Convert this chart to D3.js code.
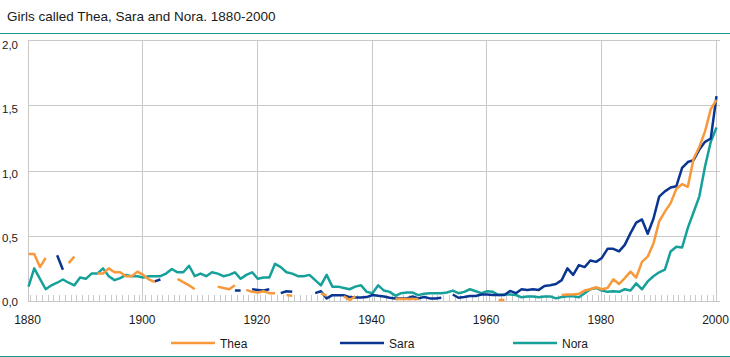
<!DOCTYPE html>
<html>
<head>
<meta charset="utf-8">
<script src="https://cdn.jsdelivr.net/npm/d3@7"></script>
<style>
  html, body { margin: 0; padding: 0; background: #fff; }
  svg { display: block; font-family: "Liberation Sans", Arial, sans-serif; }
</style>
</head>
<body>
<svg id="chart" width="730" height="357"></svg>
<script>
// ---- Data ----
const years = d3.range(1880, 2001);
const xTickLabels = [1880, 1900, 1920, 1940, 1960, 1980, 2000];
const yTickValues = [0, 0.5, 1.0, 1.5, 2.0];
const seriesNames = ["Thea", "Sara", "Nora"];

const thea = [
  // 1880-1889
  0.36, 0.36, 0.26, 0.33, null, null, null, 0.29, 0.34, null,
  // 1890-1899
  null, null, 0.21, 0.21, 0.25, 0.22, 0.22, 0.19, 0.19, 0.225,
  // 1900-1909
  0.2, 0.165, 0.145, null, null, null, 0.17, 0.145, 0.12, 0.09,
  // 1910-1919
  null, null, null, 0.11, 0.1, 0.09, 0.12, null, 0.085, 0.07,
  // 1920-1929
  0.065, 0.075, 0.06, 0.06, null, 0.045, 0.04, null, null, null,
  // 1930-1939
  null, 0.06, 0.04, null, null, 0.035, 0.008, 0.035, null, null,
  // 1940-1949
  null, null, null, null, 0.015, 0.015, 0.015, 0.015, 0.015, null,
  // 1950-1959
  null, null, null, null, null, null, null, null, null, null,
  // 1960-1969
  null, null, 0.008, 0.008, null, null, null, null, null, null,
  // 1970-1979
  null, null, null, 0.046, 0.05, 0.05, 0.055, 0.08, 0.09, 0.105,
  // 1980-1989
  0.09, 0.1, 0.166, 0.13, 0.175, 0.225, 0.18, 0.3, 0.34, 0.44,
  // 1990-1999
  0.61, 0.685, 0.75, 0.86, 0.895, 0.875, 1.09, 1.18, 1.3, 1.47,
  // 2000
  1.54
];

const sara = [
  // 1880-1889
  null, null, null, null, null, 0.35, 0.24, null, null, null,
  // 1890-1899
  null, null, null, null, null, null, null, null, null, null,
  // 1900-1909
  null, null, 0.15, 0.165, null, null, null, null, null, null,
  // 1910-1919
  null, null, null, null, null, null, 0.08, 0.08, null, 0.09,
  // 1920-1929
  0.085, 0.08, 0.09, null, 0.06, 0.075, 0.07, null, null, null,
  // 1930-1939
  0.06, 0.075, 0.02, 0.045, 0.045, 0.045, 0.03, 0.027, 0.027, 0.03,
  // 1940-1949
  0.046, 0.04, 0.035, 0.025, 0.02, 0.02, 0.02, 0.035, 0.02, 0.03,
  // 1950-1959
  0.02, 0.02, 0.025, null, 0.05, 0.025, 0.03, 0.038, 0.038, 0.05,
  // 1960-1969
  0.05, 0.046, 0.046, 0.046, 0.077, 0.06, 0.09, 0.085, 0.09, 0.085,
  // 1970-1979
  0.115, 0.12, 0.13, 0.16, 0.25, 0.2, 0.275, 0.26, 0.31, 0.3,
  // 1980-1989
  0.33, 0.4, 0.4, 0.38, 0.43, 0.52, 0.6, 0.625, 0.515, 0.63,
  // 1990-1999
  0.8, 0.84, 0.87, 0.88, 1.02, 1.065, 1.08, 1.16, 1.22, 1.245,
  // 2000
  1.57
];

const nora = [
  // 1880-1889
  0.11, 0.25, 0.17, 0.09, 0.12, 0.14, 0.165, 0.14, 0.12, 0.18,
  // 1890-1899
  0.17, 0.21, 0.21, 0.25, 0.19, 0.16, 0.175, 0.2, 0.19, 0.19,
  // 1900-1909
  0.18, 0.19, 0.19, 0.19, 0.21, 0.245, 0.22, 0.22, 0.27, 0.19,
  // 1910-1919
  0.21, 0.19, 0.22, 0.21, 0.19, 0.2, 0.22, 0.17, 0.2, 0.22,
  // 1920-1929
  0.17, 0.18, 0.18, 0.285, 0.26, 0.22, 0.21, 0.19, 0.19, 0.2,
  // 1930-1939
  0.16, 0.12, 0.2, 0.11, 0.11, 0.1, 0.09, 0.11, 0.12, 0.07,
  // 1940-1949
  0.06, 0.12, 0.08, 0.07, 0.04, 0.06, 0.065, 0.065, 0.045, 0.055,
  // 1950-1959
  0.06, 0.06, 0.06, 0.065, 0.08, 0.06, 0.07, 0.09, 0.075, 0.06,
  // 1960-1969
  0.075, 0.07, 0.046, 0.05, 0.05, 0.046, 0.028, 0.035, 0.035, 0.028,
  // 1970-1979
  0.035, 0.035, 0.02, 0.03, 0.036, 0.036, 0.028, 0.06, 0.09, 0.1,
  // 1980-1989
  0.08, 0.07, 0.075, 0.07, 0.09, 0.08, 0.135, 0.09, 0.15, 0.19,
  // 1990-1999
  0.22, 0.24, 0.38, 0.415, 0.41, 0.56, 0.68, 0.8, 1.03, 1.22,
  // 2000
  1.33
];

const colors = { Thea: "#f7993a", Sara: "#0a3692", Nora: "#16a09a" };
const seriesData = { Thea: thea, Sara: sara, Nora: nora };

// ---- Layout ----
const W = 730, H = 357;
const plot = { left: 28, right: 720, top: 40, bottom: 301 };

const svg = d3.select("#chart");

const x = d3.scaleLinear().domain([1880, 2000]).range([28.5, 716.5]);
const y = d3.scaleLinear().domain([0, 2]).range([plot.bottom, plot.top]);

const gridColor = "#c8c8c8";
const teal = "#17978f";

// Title
svg.append("text")
  .attr("x", 7).attr("y", 20.5)
  .attr("font-size", 13.5)
  .attr("fill", "#1a1a1a")
  .text("Girls called Thea, Sara and Nora. 1880-2000");

// Teal rules
svg.append("line").attr("x1", 0).attr("x2", W).attr("y1", 33.5).attr("y2", 33.5)
  .attr("stroke", teal).attr("stroke-width", 1);
svg.append("line").attr("x1", 0).attr("x2", W).attr("y1", 356.5).attr("y2", 356.5)
  .attr("stroke", teal).attr("stroke-width", 1);

// Horizontal gridlines (including top border)
svg.append("g").selectAll("line")
  .data(yTickValues.filter(v => v > 0))
  .join("line")
  .attr("x1", plot.left).attr("x2", plot.right)
  .attr("y1", d => Math.round(y(d)) + 0.5).attr("y2", d => Math.round(y(d)) + 0.5)
  .attr("stroke", gridColor).attr("stroke-width", 1);

// Vertical gridlines
svg.append("g").selectAll("line")
  .data(xTickLabels.filter(v => v > 1880))
  .join("line")
  .attr("x1", d => Math.round(x(d)) - 0.5).attr("x2", d => Math.round(x(d)) - 0.5)
  .attr("y1", plot.top).attr("y2", plot.bottom + 1)
  .attr("stroke", gridColor).attr("stroke-width", 1);

// Minor year ticks (between years)
svg.append("g").selectAll("line")
  .data(years.slice(0, -1).map(v => v + 0.5))
  .join("line")
  .attr("x1", d => Math.round(x(d)) - 0.5).attr("x2", d => Math.round(x(d)) - 0.5)
  .attr("y1", plot.bottom - 6).attr("y2", plot.bottom)
  .attr("stroke", gridColor).attr("stroke-width", 1);

// Axes lines
svg.append("line").attr("x1", plot.left + 0.5).attr("x2", plot.left + 0.5)
  .attr("y1", plot.top).attr("y2", plot.bottom + 1)
  .attr("stroke", gridColor);
svg.append("line").attr("x1", plot.left).attr("x2", plot.right)
  .attr("y1", plot.bottom + 0.5).attr("y2", plot.bottom + 0.5)
  .attr("stroke", gridColor);

// Y labels
const fmt = v => d3.format(".1f")(v).replace(".", ",");
svg.append("g").selectAll("text")
  .data(yTickValues)
  .join("text")
  .attr("x", 18)
  .attr("y", d => y(d) + 5 + d * 2)
  .attr("text-anchor", "end")
  .attr("font-size", 11.5)
  .attr("fill", "#1a1a1a")
  .text(fmt);

// X labels
svg.append("g").selectAll("text")
  .data(xTickLabels)
  .join("text")
  .attr("x", d => x(d) - 1)
  .attr("y", 324)
  .attr("text-anchor", "middle")
  .attr("font-size", 12)
  .attr("fill", "#1a1a1a")
  .text(d => d);

// Lines
const line = d3.line()
  .defined(d => d.v != null)
  .x(d => x(d.year))
  .y(d => y(d.v));

seriesNames.slice().reverse().forEach(name => {
  const pts = years.map((yr, i) => ({ year: yr, v: seriesData[name][i] }));
  svg.append("path")
    .datum(pts)
    .attr("fill", "none")
    .attr("stroke", colors[name])
    .attr("stroke-width", 2.5)
    .attr("stroke-linejoin", "round")
    .attr("d", line);
});

// Legend
const legendX = { Thea: 171, Sara: 340, Nora: 513 };
seriesNames.forEach(name => {
  const g = svg.append("g");
  g.append("line")
    .attr("x1", legendX[name]).attr("x2", legendX[name] + 44)
    .attr("y1", 343).attr("y2", 343)
    .attr("stroke", colors[name]).attr("stroke-width", 2.5);
  g.append("text")
    .attr("x", legendX[name] + 49).attr("y", 347.5)
    .attr("font-size", 12)
    .attr("fill", "#1a1a1a")
    .text(name);
});
</script>
</body>
</html>
